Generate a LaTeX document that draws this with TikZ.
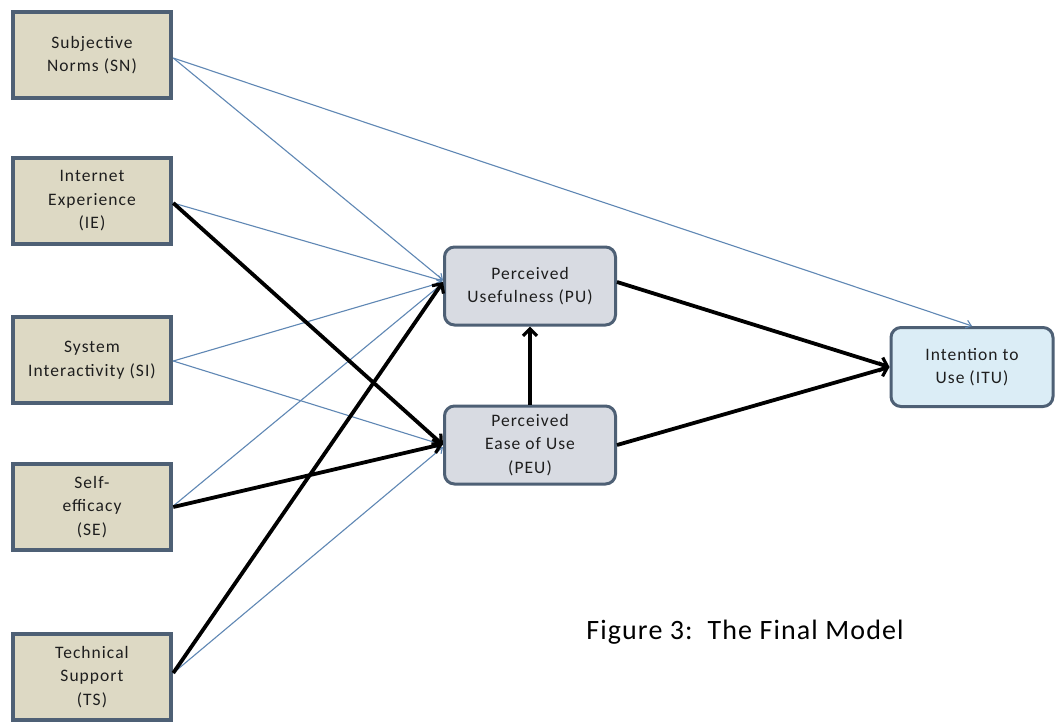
\documentclass[tikz,border=0pt]{standalone}
\usepackage{fontspec}
\setmainfont{Carlito}
\newfontfamily\boxfont[LetterSpace=6]{Carlito}
\newfontfamily\capfont[LetterSpace=4]{Carlito}
\usetikzlibrary{arrows.meta}
\definecolor{tanfill}{RGB}{221,217,196}
\definecolor{boxedge}{RGB}{78,96,117}
\definecolor{grayfill}{RGB}{216,219,226}
\definecolor{bluefill}{RGB}{219,237,246}
\definecolor{thinblue}{RGB}{95,135,180}
\definecolor{txt}{RGB}{30,30,30}
\tikzset{
  boxtext/.style={align=center, font=\boxfont\fontsize{17.5}{23.5}\selectfont, text=txt, inner sep=0pt},
  srcbox/.style={boxtext, draw=boxedge, line width=4.5pt, fill=tanfill, minimum width=158pt, minimum height=86pt},
  midbox/.style={boxtext, draw=boxedge, line width=3pt, fill=grayfill, rounded corners=10pt, minimum width=171pt, minimum height=78pt},
  endbox/.style={boxtext, draw=boxedge, line width=3pt, fill=bluefill, rounded corners=10pt, minimum width=162pt, minimum height=79pt},
  thinarrow/.style={draw=thinblue, line width=1.1pt, -{Straight Barb[length=5pt,width=8pt]}},
  thickarrow/.style={draw=black, line width=3.8pt, -{Straight Barb[length=7pt,width=14pt,line width=3.2pt]}},
}
\begin{document}
\begin{tikzpicture}[x=1pt,y=-1pt]
\useasboundingbox[fill=white] (0,0) rectangle (1057,721);
\node[srcbox] (SN) at (92,55) {Subjective\\Norms (SN)};
\node[srcbox] (IE) at (92,201) {Internet\\Experience\\(IE)};
\node[srcbox] (SI) at (92,360) {System\\Interactivity (SI)};
\node[srcbox] (SE) at (92,507) {Self-\\efficacy\\(SE)};
\node[srcbox] (TS) at (92,677) {Technical\\Support\\(TS)};
\node[midbox] (PU) at (530,286) {Perceived\\Usefulness (PU)};
\node[midbox] (PEU) at (530,445) {Perceived\\Ease of Use\\(PEU)};
\node[endbox] (ITU) at (972,367) {Intention to\\Use (ITU)};
\node[font=\capfont\fontsize{28}{32}\selectfont, text=black, anchor=center] (cap) at (745,632) {Figure 3:\ \ The Final Model};
% thin arrows
\draw[thinarrow] ([yshift=-3pt]SN.east) -- ([yshift=6pt]PU.west);
\draw[thinarrow] ([yshift=-3pt]SN.east) -- (ITU.north);
\draw[thinarrow] ([yshift=-2pt]IE.east) -- ([yshift=5pt]PU.west);
\draw[thinarrow] ([yshift=-1pt]SI.east) -- ([yshift=4pt]PU.west);
\draw[thinarrow] ([yshift=-1pt]SI.east) -- ([yshift=0pt]PEU.west);
\draw[thinarrow] ([yshift=1pt]SE.east) -- ([yshift=3pt]PU.west);
\draw[thinarrow] ([yshift=4pt]TS.east) -- ([yshift=-2pt]PEU.west);
% thick arrows
\draw[thickarrow] ([yshift=-2pt]IE.east) -- ([yshift=0pt]PEU.west);
\draw[thickarrow] (SE.east) -- ([yshift=1pt]PEU.west);
\draw[thickarrow] ([yshift=4pt]TS.east) -- ([yshift=4pt]PU.west);
\draw[thickarrow] (PEU.north) -- (PU.south);
\draw[thickarrow] ([yshift=4pt]PU.east) -- (ITU.west);
\draw[thickarrow] (PEU.east) -- (ITU.west);
\end{tikzpicture}
\end{document}
